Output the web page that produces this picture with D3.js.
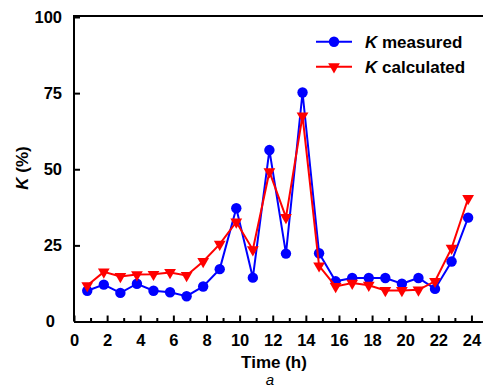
<!DOCTYPE html>
<html>
<head>
<meta charset="utf-8">
<script src="https://cdn.jsdelivr.net/npm/d3@7"></script>
<style>
  body { margin: 0; background: #fff; }
  svg { display: block; font-family: "Liberation Sans", Arial, sans-serif; }
  .axis path, .axis line { stroke: #000; stroke-width: 2; }
  .axis text { font-size: 16.5px; font-weight: bold; fill: #000; }
</style>
</head>
<body>
<div id="graph"></div>
<script>
// data
const hours = [0.8, 1.8, 2.8, 3.8, 4.8, 5.8, 6.8, 7.8, 8.8, 9.8, 10.8, 11.8,
               12.8, 13.8, 14.8, 15.8, 16.8, 17.8, 18.8, 19.8, 20.8, 21.8, 22.8, 23.8];
const measured = [10.1, 12.1, 9.4, 12.4, 10.1, 9.6, 8.3, 11.5, 17.2, 37.2, 14.4, 56.3,
                  22.3, 75.2, 22.4, 13.2, 14.3, 14.3, 14.3, 12.4, 14.3, 10.7, 19.7, 34.1];
const calculated = [11.8, 16.3, 14.8, 15.4, 15.5, 16.1, 15.1, 19.7, 25.4, 32.7, 23.6, 49.2,
                    34.2, 67.5, 18.3, 11.5, 12.6, 11.9, 10.2, 10.2, 10.4, 13.2, 24.1, 40.4];
const xTicks = [0, 2, 4, 6, 8, 10, 12, 14, 16, 18, 20, 22, 24];
const xMinor = [1, 3, 5, 7, 9, 11, 13, 15, 17, 19, 21, 23];
const yTicks = [0, 25, 50, 75, 100];

const width = 483, height = 389;

const svg = d3.select("#graph").append("svg")
    .attr("width", width)
    .attr("height", height);

// set the ranges
const x = d3.scaleLinear().domain([0, 25]).range([74, 74 + 25 * 16.56]);
const y = d3.scaleLinear().domain([0, 100]).range([321.5, 17]);

// frame top line
svg.append("line")
    .attr("x1", x(0)).attr("x2", width + 10)
    .attr("y1", y(100) - 1).attr("y2", y(100) - 1)
    .attr("stroke", "#000").attr("stroke-width", 2);

// x axis (major + minor ticks pointing inside)
svg.append("g")
    .attr("class", "axis")
    .attr("transform", "translate(0," + y(0) + ")")
    .call(d3.axisBottom(x).tickValues(xTicks).tickSizeInner(-6).tickSizeOuter(0).tickPadding(13));

svg.append("g")
    .attr("class", "axis")
    .attr("transform", "translate(0," + y(0) + ")")
    .call(d3.axisBottom(x).tickValues(xMinor).tickSizeInner(-3.5).tickSizeOuter(0).tickFormat(""))
    .select(".domain").remove();

// y axis
const gy = svg.append("g")
    .attr("class", "axis")
    .attr("transform", "translate(" + x(0) + ",0)")
    .call(d3.axisLeft(y).tickValues(yTicks).tickSizeInner(-6).tickSizeOuter(0).tickPadding(12));
gy.select(".domain").attr("d", "M0," + (y(100) - 2) + "V" + y(0));
gy.selectAll(".tick text").filter(d => d === 0).attr("dx", -7);

// series
const series = [
  {name: "measured", values: measured, color: "#0000ff", marker: "circle"},
  {name: "calculated", values: calculated, color: "#ff0000", marker: "triangle"}
];

const line = d3.line()
    .x(d => x(d[0]))
    .y(d => y(d[1]));

const triangle = d3.symbol().type(d3.symbolTriangle).size(60);

function drawMarker(g, kind, color) {
  if (kind === "circle") {
    g.append("circle").attr("r", 5.2).attr("fill", color);
  } else {
    g.append("path").attr("d", triangle()).attr("transform", "rotate(180)").attr("fill", color);
  }
}

series.forEach(s => {
  const pts = hours.map((h, i) => [h, s.values[i]]);
  svg.append("path")
      .datum(pts)
      .attr("fill", "none")
      .attr("stroke", s.color)
      .attr("stroke-width", 2)
      .attr("d", line);
  svg.selectAll(".m-" + s.name)
      .data(pts)
      .enter().append("g")
      .attr("transform", d => "translate(" + x(d[0]) + "," + y(d[1]) + ")")
      .each(function() { drawMarker(d3.select(this), s.marker, s.color); });
});

// legend
series.forEach((s, i) => {
  const ly = 41.7 + i * 25;
  svg.append("line")
      .attr("x1", 316).attr("x2", 352)
      .attr("y1", ly).attr("y2", ly)
      .attr("stroke", s.color).attr("stroke-width", 2);
  drawMarker(svg.append("g").attr("transform", "translate(334," + ly + ")"), s.marker, s.color);
  const t = svg.append("text")
      .attr("x", 365).attr("y", ly)
      .attr("dy", "0.36em")
      .style("font-size", "17px")
      .style("font-weight", "bold");
  t.append("tspan").style("font-style", "italic").text("K");
  t.append("tspan").text(" " + s.name);
});

// axis labels
svg.append("text")
    .attr("x", 274).attr("y", 368)
    .style("text-anchor", "middle")
    .style("font-size", "17px")
    .style("font-weight", "bold")
    .text("Time (h)");

const yl = svg.append("text")
    .attr("transform", "translate(22,168) rotate(-90)")
    .attr("dy", "0.36em")
    .style("text-anchor", "middle")
    .style("font-size", "17px")
    .style("font-weight", "bold");
yl.append("tspan").style("font-style", "italic").text("K");
yl.append("tspan").text(" (%)");

svg.append("text")
    .attr("x", 270).attr("y", 385)
    .style("text-anchor", "middle")
    .style("font-size", "15px")
    .style("font-style", "italic")
    .text("a");
</script>
</body>
</html>
